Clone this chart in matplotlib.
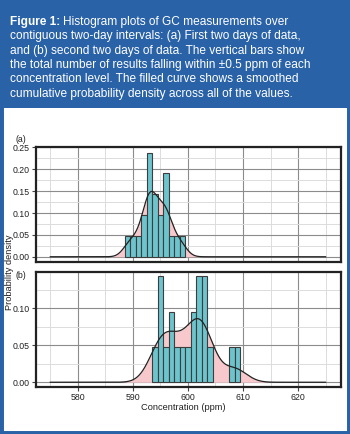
import matplotlib
matplotlib.use("Agg")
import matplotlib.pyplot as plt
import numpy as np
from matplotlib import font_manager
from matplotlib.patches import Rectangle
from matplotlib.ticker import MultipleLocator

# histogram data: concentration level (ppm) and number of results, n = 21 per panel
conc_a = [589, 590, 591, 592, 593, 594, 595, 596, 597, 598, 599]
count_a = [1, 1, 1, 2, 5, 3, 2, 4, 1, 1, 1]
conc_b = [594, 595, 596, 597, 598, 599, 600, 601, 602, 603, 604, 608, 609]
count_b = [1, 3, 1, 2, 1, 1, 1, 2, 3, 3, 1, 1, 1]
n_results = 21
bw_a = 1.15
bw_b = 2.1

yticks_a = [0.00, 0.05, 0.10, 0.15, 0.20, 0.25]
yticks_b = [0.00, 0.05, 0.10]
xticks = [580, 590, 600, 610, 620]

caption = [
    "Histogram plots of GC measurements over",
    "contiguous two-day intervals: (a) First two days of data,",
    "and (b) second two days of data. The vertical bars show",
    "the total number of results falling within \u00b10.5 ppm of each",
    "concentration level. The filled curve shows a smoothed",
    "cumulative probability density across all of the values.",
]

BLUE = '#2962a6'
TEAL = '#6cc4cd'
PINK = '#f7c9cc'

# a narrow face for the axis texts if one is installed
narrow = font_manager.findfont(font_manager.FontProperties(family='Liberation Sans Narrow'),
                               fallback_to_default=True)
if 'Narrow' in narrow:
    AX_FONT, TICK_SIZE, LAB_SIZE = 'Liberation Sans Narrow', 7.0, 7.2
else:
    AX_FONT, TICK_SIZE, LAB_SIZE = 'Liberation Sans', 6.3, 6.7
plt.rcParams['font.family'] = [AX_FONT, 'DejaVu Sans']


def kde(centers, counts, bw, grid):
    vals = np.repeat(centers, counts).astype(float)
    z = (grid[:, None] - vals[None, :]) / bw
    return np.exp(-0.5 * z ** 2).sum(axis=1) / (len(vals) * bw * np.sqrt(2 * np.pi))


W, H = 350, 434
fig = plt.figure(figsize=(W / 100, H / 100), dpi=100)

# frame and header
fig.patches.append(Rectangle((0, 0), 1, 1, transform=fig.transFigure,
                             facecolor='white', edgecolor=BLUE, linewidth=5, zorder=-10))
fig.patches.append(Rectangle((0, 1 - 108 / H), 1, 108 / H, transform=fig.transFigure,
                             facecolor=BLUE, edgecolor='none', zorder=-9))

tx = 10 / W
base = [25, 39.3, 53.6, 67.9, 82.2, 96.5]
bold = fig.text(tx, 1 - base[0] / H, "Figure 1:", color='white', fontsize=8.6,
                fontweight='bold', family='Liberation Sans', va='baseline')
fig.canvas.draw()
bb = bold.get_window_extent()
fig.text((bb.x1 + 3) / W, 1 - base[0] / H, caption[0], color='white', fontsize=8.6,
         family='Liberation Sans', va='baseline')
for y, line in zip(base[1:], caption[1:]):
    fig.text(tx, 1 - y / H, line, color='white', fontsize=8.6,
             family='Liberation Sans', va='baseline')

grid = np.linspace(575, 625, 600)


def panel(rect, centers, counts, bw, ylim, yticks, show_x):
    ax = fig.add_axes(rect)
    dens = np.array(counts) / n_results
    curve = kde(centers, counts, bw, grid)
    ax.fill_between(grid, 0, curve, color=PINK, lw=0, zorder=1)
    ax.bar(centers, dens, width=1.0, color=TEAL, edgecolor='#3d3d3d', linewidth=0.8, zorder=2)
    ax.plot(grid, curve, color='#222222', lw=0.9, zorder=3)
    ax.set_xlim(572.4, 627.8)
    ax.set_ylim(*ylim)
    ax.set_yticks(yticks)
    ax.set_yticklabels(['%.2f' % v for v in yticks])
    ax.yaxis.set_minor_locator(MultipleLocator(0.025))
    ax.set_xticks(xticks)
    ax.xaxis.set_minor_locator(MultipleLocator(5))
    ax.grid(which='major', color='#8c8c8c', lw=0.8, zorder=0)
    ax.grid(which='minor', color='#dcdcdc', lw=0.7, zorder=0)
    ax.set_axisbelow(True)
    for s in ax.spines.values():
        s.set_linewidth(1.6)
        s.set_color('#222222')
    ax.tick_params(which='minor', length=0)
    ax.tick_params(which='major', length=3, width=0.8, labelsize=TICK_SIZE, pad=1.5,
                   color='#444444', labelcolor='#222222')
    if not show_x:
        ax.tick_params(axis='x', labelbottom=False, length=0)
    return ax


ax_a = panel([36 / W, 1 - 262 / H, 305 / W, 115 / H], conc_a, count_a, bw_a,
             (-0.012, 0.251), yticks_a, False)
ax_b = panel([36 / W, 1 - 387 / H, 305 / W, 115 / H], conc_b, count_b, bw_b,
             (-0.0064, 0.1486), yticks_b, True)
ax_b.tick_params(axis='x', pad=1.0)

fig.text(16 / W, 1 - 140 / H, "(a)", fontsize=TICK_SIZE, color='#222222', va='center')
fig.text(16 / W, 1 - 275 / H, "(b)", fontsize=TICK_SIZE, color='#222222', va='center')
fig.text(10 / W, 1 - 272 / H, "Probability density", rotation=90, fontsize=LAB_SIZE,
         color='#222222', ha='center', va='center')
fig.text(183 / W, 1 - 407 / H, "Concentration (ppm)", fontsize=LAB_SIZE,
         color='#222222', ha='center', va='center')

fig.savefig("out.png", dpi=100)
